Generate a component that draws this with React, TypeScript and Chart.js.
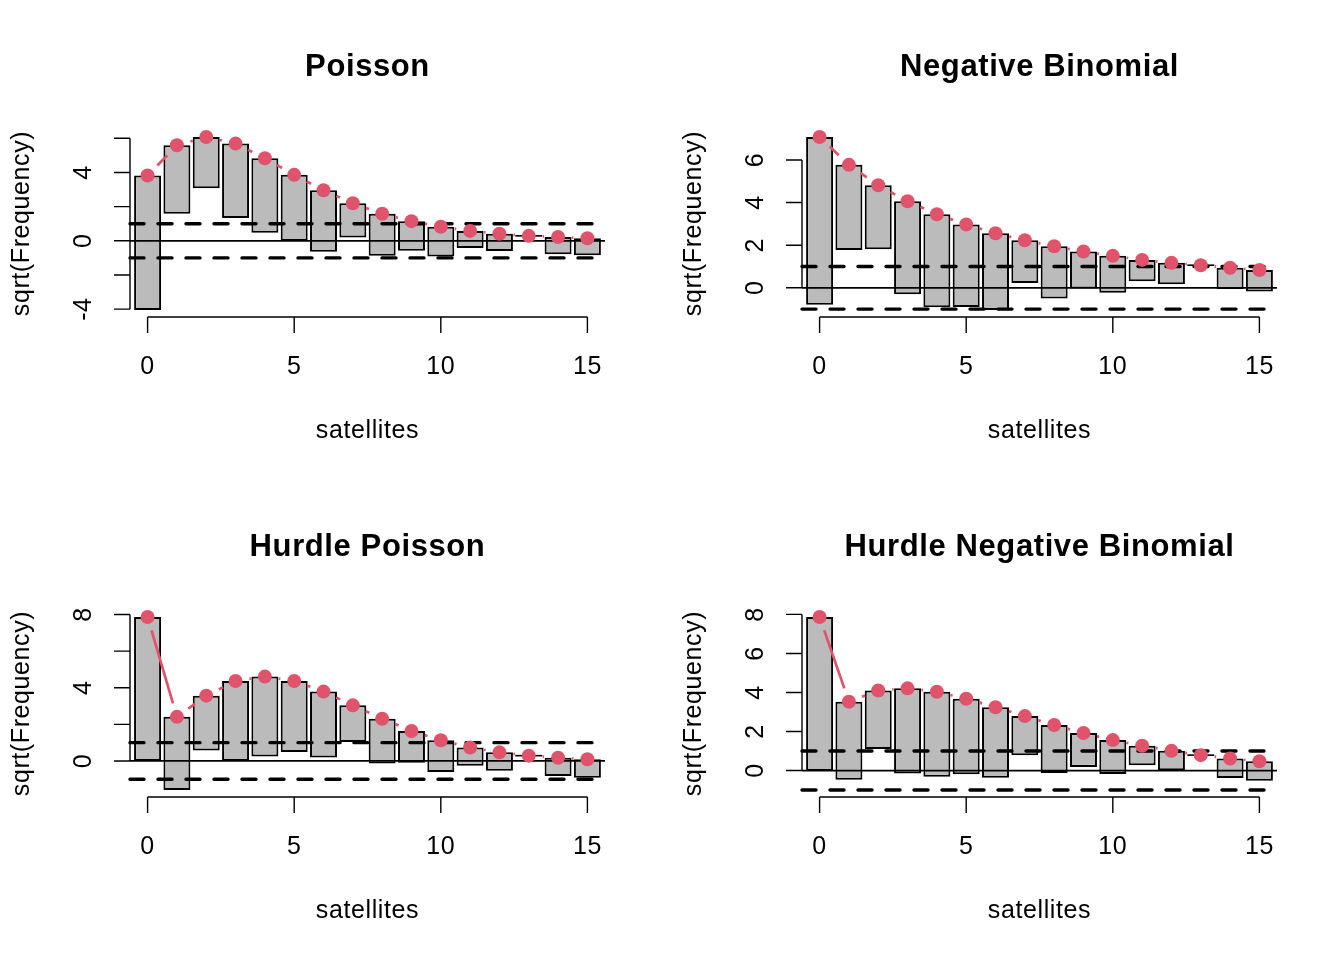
import { useEffect, useRef } from 'react';
import { Chart, registerables } from 'chart.js';

Chart.register(...registerables);

// satellites count categories and observed frequencies
const satellites = [0, 1, 2, 3, 4, 5, 6, 7, 8, 9, 10, 11, 12, 13, 14, 15];
const observed = [62, 16, 9, 19, 19, 15, 13, 4, 6, 3, 3, 1, 1, 0, 1, 1];

// sqrt(expected frequency) for each model
const poissonFit = [3.82, 5.59, 6.08, 5.69, 4.83, 3.86, 2.96, 2.2, 1.58, 1.15, 0.82, 0.58, 0.41, 0.29, 0.22, 0.15];
const negbinFit = [7.08, 5.77, 4.81, 4.06, 3.45, 2.97, 2.56, 2.23, 1.95, 1.7, 1.5, 1.31, 1.17, 1.06, 0.94, 0.83];
const hurdlePoissonFit = [7.87, 2.41, 3.57, 4.37, 4.61, 4.37, 3.79, 3.04, 2.31, 1.64, 1.13, 0.74, 0.47, 0.29, 0.18, 0.09];
const hurdleNegbinFit = [7.87, 3.53, 4.1, 4.21, 4.04, 3.68, 3.24, 2.79, 2.33, 1.92, 1.56, 1.27, 1.01, 0.79, 0.62, 0.48];

const xTicks = [0, 5, 10, 15];
const poissonYTicks = [-4, -2, 0, 2, 4, 6];
const negbinYTicks = [0, 2, 4, 6];
const hurdleYTicks = [0, 2, 4, 6, 8];
const refLines = [-1, 0, 1];

const RED = '#DF536B';
const FONT = '"Liberation Sans", Arial, Helvetica, sans-serif';

type PanelProps = {
  title: string;
  fit: number[];
  yTicks: number[];
};

const rootogramPlugin = {
  id: 'rootogram',
  afterDatasetDraw(chart: any, args: any) {
    if (args.index !== 1) return;
    const { ctx, chartArea: area, scales } = chart;
    const y = scales.y;
    ctx.save();
    // zero-height bars still show as a flat line, as R's rect() does
    ctx.strokeStyle = '#000';
    ctx.lineWidth = 1.6;
    chart.getDatasetMeta(1).data.forEach((bar: any) => {
      if (Math.abs(bar.base - bar.y) > 0.5) return;
      ctx.beginPath();
      ctx.moveTo(bar.x - bar.width / 2, bar.y);
      ctx.lineTo(bar.x + bar.width / 2, bar.y);
      ctx.stroke();
    });
    // reference lines
    refLines.forEach(v => {
      const py = y.getPixelForValue(v);
      ctx.beginPath();
      ctx.strokeStyle = '#000';
      if (v === 0) {
        ctx.setLineDash([]);
        ctx.lineWidth = 1.7;
        ctx.lineCap = 'butt';
      } else {
        ctx.setLineDash([14, 14]);
        ctx.lineWidth = 3.4;
        ctx.lineCap = 'round';
      }
      ctx.moveTo(area.left, py);
      ctx.lineTo(area.right, py);
      ctx.stroke();
    });
    // expected curve, type "b" style with gaps around points
    const pts = chart.getDatasetMeta(0).data;
    const gap = 14;
    ctx.setLineDash([]);
    ctx.strokeStyle = RED;
    ctx.lineWidth = 2.7;
    ctx.lineCap = 'butt';
    for (let i = 0; i < pts.length - 1; i++) {
      const a = pts[i], b = pts[i + 1];
      const dx = b.x - a.x, dy = b.y - a.y;
      const d = Math.hypot(dx, dy);
      if (d <= 2 * gap) continue;
      const ux = dx / d, uy = dy / d;
      ctx.beginPath();
      ctx.moveTo(a.x + ux * gap, a.y + uy * gap);
      ctx.lineTo(b.x - ux * gap, b.y - uy * gap);
      ctx.stroke();
    }
    ctx.restore();
  },
  afterDraw(chart: any) {
    const { ctx, chartArea: area, scales } = chart;
    const x = scales.x, y = scales.y;
    const opts = chart.options.plugins.rootogram;
    const yTicks: number[] = opts.yTicks;
    ctx.save();
    ctx.strokeStyle = '#000';
    ctx.fillStyle = '#000';
    ctx.lineWidth = 1.4;
    ctx.setLineDash([]);
    // x axis
    const bottom = area.bottom;
    ctx.beginPath();
    ctx.moveTo(x.getPixelForValue(xTicks[0]), bottom);
    ctx.lineTo(x.getPixelForValue(xTicks[xTicks.length - 1]), bottom);
    xTicks.forEach(t => {
      const px = x.getPixelForValue(t);
      ctx.moveTo(px, bottom);
      ctx.lineTo(px, bottom + 16);
    });
    ctx.stroke();
    ctx.font = `25px ${FONT}`;
    ctx.letterSpacing = '0.6px';
    ctx.textAlign = 'center';
    ctx.textBaseline = 'middle';
    xTicks.forEach(t => ctx.fillText(String(t), x.getPixelForValue(t), bottom + 50));
    // y axis
    const left = area.left;
    ctx.beginPath();
    ctx.moveTo(left, y.getPixelForValue(yTicks[0]));
    ctx.lineTo(left, y.getPixelForValue(yTicks[yTicks.length - 1]));
    yTicks.forEach(t => {
      const py = y.getPixelForValue(t);
      ctx.moveTo(left - 16, py);
      ctx.lineTo(left, py);
    });
    ctx.stroke();
    let last: { pos: number; w: number } | null = null;
    yTicks.forEach(t => {
      const label = String(t);
      const py = y.getPixelForValue(t);
      const w = ctx.measureText(label).width;
      if (last && Math.abs(last.pos - py) < last.w / 2 + w / 2 + 24) return;
      last = { pos: py, w };
      ctx.save();
      ctx.translate(left - 46, py);
      ctx.rotate(-Math.PI / 2);
      ctx.fillText(label, 0, 0);
      ctx.restore();
    });
    // axis titles
    const cx = (area.left + area.right) / 2;
    const cy = (area.top + area.bottom) / 2;
    ctx.fillText('satellites', cx, bottom + 114);
    ctx.save();
    ctx.translate(22, cy);
    ctx.rotate(-Math.PI / 2);
    ctx.fillText('sqrt(Frequency)', 0, 0);
    ctx.restore();
    ctx.font = `bold 31px ${FONT}`;
    ctx.letterSpacing = '0.6px';
    ctx.fillText(opts.title, cx, 67);
    ctx.restore();
  },
};

function Rootogram({ title, fit, yTicks }: PanelProps) {
  const canvasRef = useRef<HTMLCanvasElement>(null);

  useEffect(() => {
    if (!canvasRef.current) return;
    const bottoms = fit.map((f, i) => f - Math.sqrt(observed[i]));
    const lo = Math.min(-1, ...bottoms);
    const hi = Math.max(1, ...fit);
    const pad = (hi - lo) * 0.04;
    const chart = new Chart(canvasRef.current, {
      type: 'bar',
      data: {
        datasets: [
          {
            type: 'line',
            data: satellites.map((s, i) => ({ x: s, y: fit[i] })),
            showLine: false,
            pointRadius: 7,
            pointHoverRadius: 7,
            pointBackgroundColor: RED,
            pointBorderWidth: 0,
            clip: false,
            order: 0,
          } as any,
          {
            type: 'bar',
            data: satellites.map((s, i) => ({ x: s, y: [bottoms[i], fit[i]] })),
            backgroundColor: '#BBBBBB',
            borderColor: '#000',
            borderWidth: 2,
            borderSkipped: false,
            barPercentage: 0.92,
            categoryPercentage: 1,
            order: 1,
          } as any,
        ],
      },
      options: {
        animation: false,
        responsive: false,
        devicePixelRatio: 1,
        events: [],
        layout: { padding: { left: 130, right: 67, top: 130, bottom: 163 } },
        scales: {
          x: {
            type: 'linear',
            display: false,
            offset: false,
            min: satellites[0] - 0.6,
            max: satellites[satellites.length - 1] + 0.6,
          },
          y: { type: 'linear', display: false, min: lo - pad, max: hi + pad },
        },
        plugins: {
          legend: { display: false },
          tooltip: { enabled: false },
          rootogram: { title, yTicks },
        } as any,
      },
      plugins: [rootogramPlugin],
    });
    return () => chart.destroy();
  }, []);

  return <canvas ref={canvasRef} width={672} height={480} style={{ width: 672, height: 480, display: 'block' }} />;
}

export default function App() {
  return (
    <div
      style={{
        position: 'absolute',
        left: 0,
        top: 0,
        width: 1344,
        height: 960,
        background: '#fff',
        display: 'grid',
        gridTemplateColumns: '672px 672px',
        gridTemplateRows: '480px 480px',
      }}
    >
      <Rootogram title="Poisson" fit={poissonFit} yTicks={poissonYTicks} />
      <Rootogram title="Negative Binomial" fit={negbinFit} yTicks={negbinYTicks} />
      <Rootogram title="Hurdle Poisson" fit={hurdlePoissonFit} yTicks={hurdleYTicks} />
      <Rootogram title="Hurdle Negative Binomial" fit={hurdleNegbinFit} yTicks={hurdleYTicks} />
    </div>
  );
}
